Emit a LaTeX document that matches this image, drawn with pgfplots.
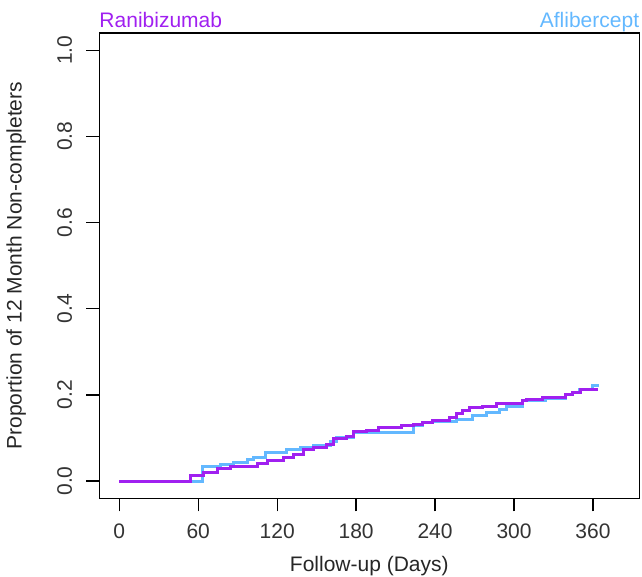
\documentclass[border=0pt]{standalone}
\usepackage{pgfplots}
\pgfplotsset{compat=1.18}
\usepackage{fontspec}
\setmainfont{Liberation Sans}
\definecolor{rpurple}{HTML}{A020F0}
\definecolor{rblue}{HTML}{63B8FF}
\newcommand{\bigf}{\fontsize{21}{25}\selectfont}
\begin{document}
\begin{tikzpicture}
\begin{axis}[name=ax,
  scale only axis, width=540pt, height=465.3pt,
  xmin=-15.2, xmax=395.2, ymin=-0.04, ymax=1.04,
  axis line style={line width=1.3pt},
  every tick/.style={black, line width=1.3pt},
  tick align=outside, major tick length=13pt,
  tick pos=left,
  xtick={0,60,120,180,240,300,360},
  ytick={0,0.2,0.4,0.6,0.8,1.0},
  yticklabels={0.0,0.2,0.4,0.6,0.8,1.0},
  /pgf/number format/assume math mode=true,
  tick label style={font=\bigf, text=black!80},
  xticklabel style={inner sep=0pt, anchor=north, yshift=-12pt},
  yticklabel style={rotate=90, inner sep=0pt, anchor=south},
  yticklabel shift=14pt,
  xlabel={Follow-up (Days)},
  ylabel={Proportion of 12 Month Non-completers},
  label style={font=\bigf, text=black!85},
  xlabel style={at={(axis description cs:0.5,0)}, anchor=center, yshift=-67.7pt},
  ylabel style={at={(axis description cs:-0.154,0.5)}, anchor=center},
  clip=false,
]
\addplot[const plot, rblue, line width=3pt] coordinates {
(0,0) (63.1,0) (63.1,0.034) (77,0.039) (87,0.044) (97.2,0.050) (102.2,0.054)
(111,0.067) (127.4,0.073) (137.5,0.078) (147.6,0.083) (160.2,0.091)
(165.3,0.102) (177.8,0.112) (223.3,0.129) (230.8,0.137) (238.4,0.139)
(256.1,0.142) (268.7,0.153) (278.8,0.159) (288.9,0.165) (293.9,0.174)
(306.5,0.187) (324.2,0.192) (339.3,0.200) (344.3,0.205) (349.4,0.213)
(359.5,0.221) (364.5,0.221)};
\addplot[const plot, rpurple, line width=3pt] coordinates {
(0,0) (54.3,0.013) (64.3,0.021) (74.5,0.029) (84.5,0.034) (104.7,0.040)
(112.3,0.048) (124.9,0.054) (132.4,0.062) (140,0.073) (147.6,0.078)
(157.7,0.085) (162.7,0.099) (172.8,0.104) (177.8,0.114) (188,0.117)
(196.8,0.124) (214.5,0.129) (223.3,0.132) (230.8,0.137) (238.4,0.141)
(251,0.148) (256.1,0.156) (261.1,0.163) (266.2,0.170) (276.2,0.174)
(286.4,0.179) (298.9,0.181) (306.5,0.187) (309.1,0.190) (321.6,0.195)
(339.3,0.200) (344.3,0.205) (350.7,0.212) (359.5,0.213) (364,0.213)};
\node[anchor=base west, inner sep=0pt, text=rpurple, font=\bigf] at (rel axis cs:0,1) [yshift=5pt] {Ranibizumab};
\node[anchor=base east, inner sep=0pt, text=rblue, font=\bigf] at (rel axis cs:1,1) [yshift=5pt] {Aflibercept};
\end{axis}
\pgfresetboundingbox
\path (ax.south west) +(-99.3pt,-77.7pt) (ax.north east) +(2.7pt,33pt);
\end{tikzpicture}
\end{document}
